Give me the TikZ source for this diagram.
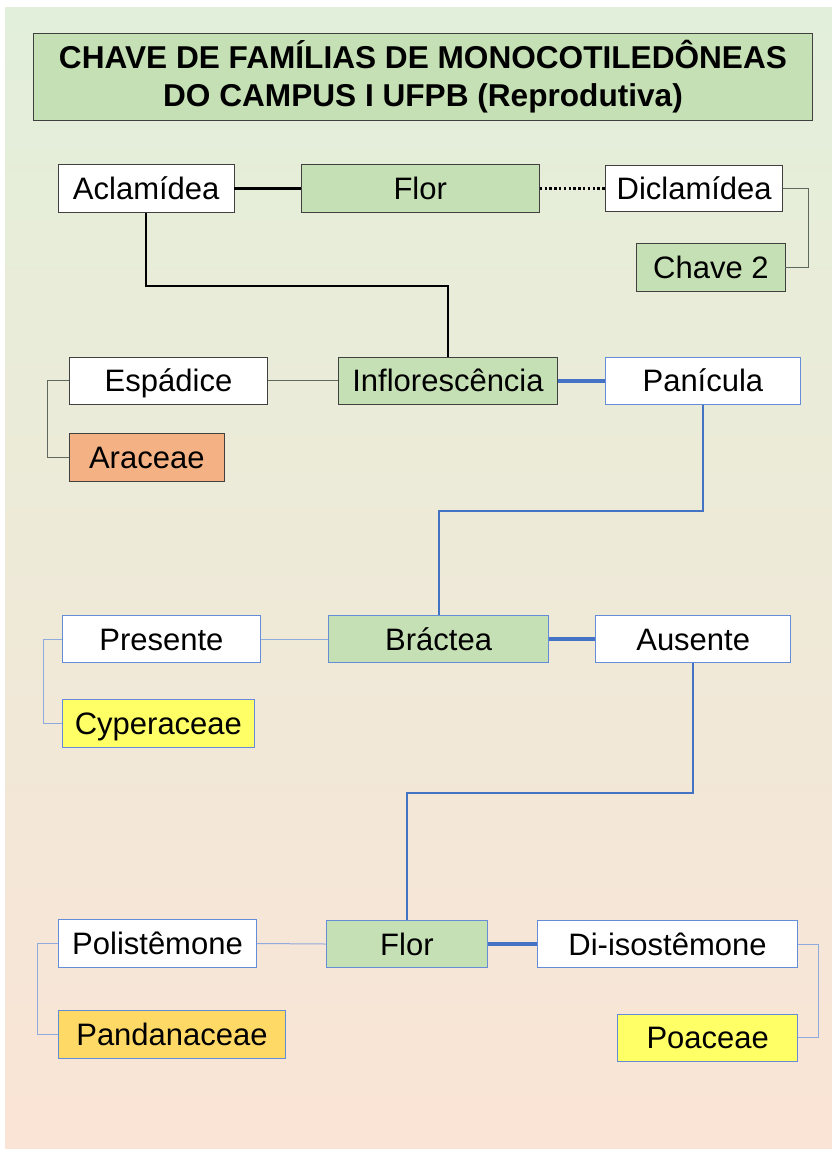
\documentclass[tikz,border=0pt]{standalone}
\usepackage{fontspec}
\setmainfont{Liberation Sans}
\begin{document}
\definecolor{bgtop}{RGB}{226,239,218}
\definecolor{bgbot}{RGB}{250,228,214}
\definecolor{keygreen}{RGB}{197,224,180}
\definecolor{keyorange}{RGB}{244,177,131}
\definecolor{keyyellow}{RGB}{255,255,102}
\definecolor{keygold}{RGB}{255,217,102}
\definecolor{darkedge}{RGB}{64,64,64}
\definecolor{blueedge}{RGB}{100,140,215}
\definecolor{keyblue}{RGB}{68,114,196}
\definecolor{lightblue}{RGB}{143,170,220}
\definecolor{greyline}{RGB}{95,105,95}
\begin{tikzpicture}[x=1pt,y=-1pt,
  box/.style={draw=darkedge, line width=0.8pt, inner sep=0pt, fill=white,
    font=\fontsize{31}{36}\selectfont, text height=22pt, text depth=0pt},
  bbox/.style={box, draw=blueedge},
  green/.style={fill=keygreen},
  thickblack/.style={line width=3pt, black},
  dotblack/.style={line width=3.2pt, black, dash pattern=on 2.4pt off 2.4pt},
  elbowblack/.style={line width=2pt, black},
  thingrey/.style={line width=1pt, greyline},
  thickblue/.style={line width=3.5pt, keyblue},
  elbowblue/.style={line width=2pt, keyblue},
  thinblue/.style={line width=1pt, lightblue}]
\useasboundingbox (0,0) rectangle (832,1149);
% background
\shade[top color=bgtop, bottom color=bgbot] (5,7) rectangle (832,1148);

% title
\node[draw=darkedge, line width=0.8pt, fill=keygreen, inner sep=0pt,
  minimum width=779pt, minimum height=87pt, align=center,
  font=\fontsize{31.6}{38}\selectfont\bfseries] (title) at (423,76.5)
  {CHAVE DE FAMÍLIAS DE MONOCOTILEDÔNEAS\\DO CAMPUS I UFPB (Reprodutiva)};

% level 1: flower perianth
\node[box, minimum width=175.7pt, minimum height=47.5pt] (acl) at (146.2,188.5) {Aclamídea};
\node[box, green, minimum width=238.3pt, minimum height=48.3pt] (flor1) at (420.2,188.5) {Flor};
\node[box, minimum width=177pt, minimum height=46pt] (dicl) at (694.2,188.5) {Diclamídea};
\node[box, green, minimum width=148.3pt, minimum height=47.7pt] (chave) at (710.9,267.2) {Chave 2};

% level 2: inflorescence
\node[box, minimum width=198.4pt, minimum height=47.6pt] (espad) at (168.5,380.8) {Espádice};
\node[box, fill=keyorange, minimum width=155pt, minimum height=47.7pt] (arac) at (146.8,457.2) {Araceae};
\node[box, green, minimum width=218.9pt, minimum height=47.6pt] (infl) at (448,380.8) {Inflorescência};
\node[bbox, minimum width=194.3pt, minimum height=47.6pt] (panic) at (702.9,380.8) {Panícula};

% level 3: bract
\node[bbox, minimum width=198pt, minimum height=47.4pt] (pres) at (161.4,639) {Presente};
\node[bbox, green, minimum width=219.9pt, minimum height=47.7pt] (bract) at (438.6,639) {Bráctea};
\node[bbox, minimum width=195pt, minimum height=47.4pt] (aus) at (693.2,639) {Ausente};
\node[bbox, fill=keyyellow, minimum width=192pt, minimum height=47.7pt] (cyper) at (158.4,723.2) {Cyperaceae};

% level 4: stamens
\node[bbox, minimum width=198.4pt, minimum height=48pt] (polis) at (157.5,943.5) {Polistêmone};
\node[bbox, green, minimum width=161.7pt, minimum height=47.6pt] (flor2) at (406.9,944) {Flor};
\node[bbox, minimum width=260.4pt, minimum height=46.6pt] (diiso) at (667.5,944) {Di-isostêmone};
\node[bbox, fill=keygold, minimum width=227.4pt, minimum height=48.3pt] (pand) at (172,1034.2) {Pandanaceae};
\node[bbox, fill=keyyellow, minimum width=180pt, minimum height=47.7pt] (poac) at (707.7,1037.9) {Poaceae};

% connectors, level 1
\draw[thickblack] (acl.east) -- (flor1.west);
\draw[dotblack] (flor1.east) -- (dicl.west);
\draw[thingrey] (dicl.east) -- ++(25,0) |- (chave.east);
\draw[elbowblack] (acl.south) -- ++(0,73) -| (infl.north);

% connectors, level 2
\draw[thingrey] (espad.east) -- (infl.west);
\draw[thingrey] (espad.west) -- ++(-21,0) |- (arac.west);
\draw[thickblue] (infl.east) -- (panic.west);
\draw[elbowblue] (panic.south) -- ++(0,106) -| (bract.north);

% connectors, level 3
\draw[thinblue] (pres.east) -- (bract.west);
\draw[thinblue] (pres.west) -- ++(-19,0) |- (cyper.west);
\draw[thickblue] (bract.east) -- (aus.west);
\draw[elbowblue] (aus.south) -- ++(0,130) -| (flor2.north);

% connectors, level 4
\draw[thinblue] (polis.east) -- (flor2.west);
\draw[thinblue] (polis.west) -- ++(-20,0) |- (pand.west);
\draw[thickblue] (flor2.east) -- (diiso.west);
\draw[thinblue] (diiso.east) -- ++(20.6,0) |- (poac.east);
\end{tikzpicture}
\end{document}
